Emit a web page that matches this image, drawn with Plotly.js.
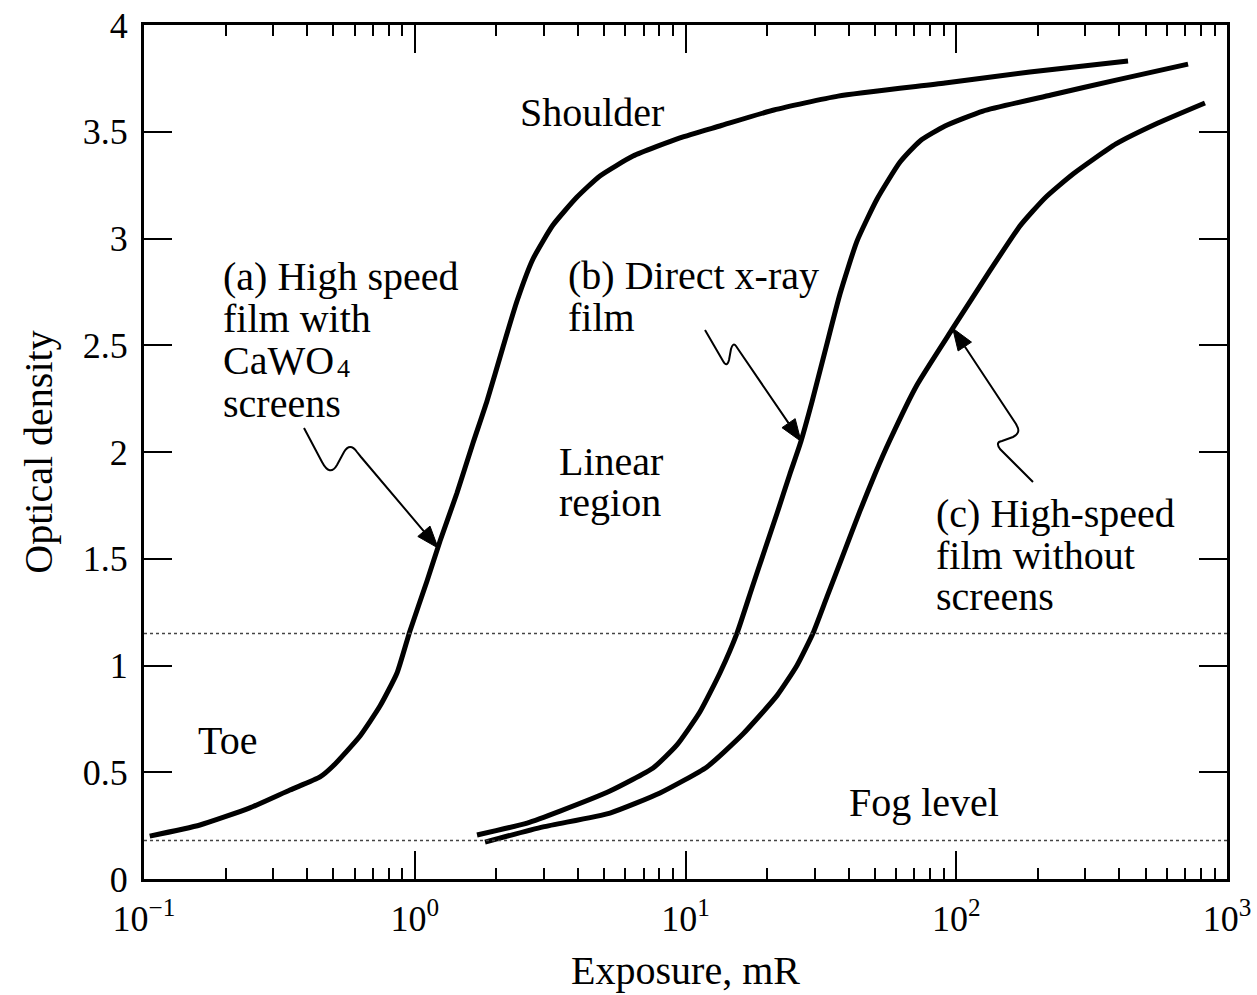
<!DOCTYPE html>
<html>
<head>
<meta charset="utf-8">
<script src="https://cdn.plot.ly/plotly-3.0.1.min.js"></script>
<style>
  html, body { margin: 0; padding: 0; background: #fff; }
  #chart { width: 1257px; height: 995px; }
</style>
</head>
<body>
<div id="chart"></div>
<script>
// Characteristic (H&D) curves: optical density vs. exposure (mR)

// (a) High speed film with CaWO4 screens
const exposureA = [0.105, 0.161, 0.246, 0.346, 0.447, 0.499, 0.628, 0.744, 0.860, 0.960, 1.110, 1.240, 1.432, 1.641, 1.849, 2.118, 2.386, 2.733, 3.24, 3.975, 4.83, 6.40, 9.54, 13.4, 21.2, 36.6, 90.9, 187, 431];
const densityA  = [0.201, 0.253, 0.333, 0.417, 0.478, 0.529, 0.670, 0.810, 0.965, 1.162, 1.396, 1.583, 1.808, 2.042, 2.239, 2.492, 2.707, 2.904, 3.063, 3.194, 3.293, 3.386, 3.471, 3.527, 3.602, 3.667, 3.728, 3.780, 3.831];

// (b) Direct x-ray film
const exposureB = [1.698, 2.60, 3.44, 5.26, 7.59, 9.30, 11.3, 13.4, 15.5, 17.6, 19.67, 21.8, 24.3, 26.5, 29.3, 32.7, 37.2, 43.0, 51.0, 62.0, 73.5, 90.9, 125.6, 224, 389, 718];
const densityB  = [0.206, 0.262, 0.318, 0.412, 0.520, 0.628, 0.782, 0.965, 1.152, 1.363, 1.546, 1.714, 1.897, 2.037, 2.234, 2.468, 2.740, 2.988, 3.185, 3.358, 3.457, 3.527, 3.597, 3.672, 3.742, 3.817];

// (c) High-speed film without screens
const exposureC = [1.818, 2.98, 5.26, 8.05, 12.0, 16.3, 21.8, 25.8, 29.6, 33.3, 38.2, 44.1, 50.1, 56.9, 71.6, 97.3, 133, 172, 212.7, 270, 389, 556, 829];
const densityC  = [0.173, 0.244, 0.309, 0.403, 0.525, 0.679, 0.860, 1.000, 1.152, 1.321, 1.518, 1.724, 1.897, 2.056, 2.314, 2.581, 2.848, 3.059, 3.190, 3.302, 3.443, 3.541, 3.635];

// Reference levels
const fogLevel = 0.18;
const toeLevel = 1.15;

// Points on each curve that the leader arrows point at [exposure, density]
const pointerA = [1.22, 1.55];
const pointerB = [26.7, 2.05];
const pointerC = [97, 2.58];

// Axis ticks
const xTickVals = [0.1, 1, 10, 100, 1000];
const xTickText = ['10<sup>\u22121</sup>', '10<sup>0</sup>', '10<sup>1</sup>', '10<sup>2</sup>', '10<sup>3</sup>'];
const xMinorVals = [];
[0.1, 1, 10, 100].forEach(d => { for (let k = 2; k <= 9; k++) xMinorVals.push(d * k); });
const yTickVals = [0, 0.5, 1, 1.5, 2, 2.5, 3, 3.5, 4];
const yTickText = ['0', '0.5', '1', '1.5', '2', '2.5', '3', '3.5', '4'];

const FONT = 'Liberation Serif, Times New Roman, serif';
const TICK_FS = 36;
const TEXT_FS = 40;
const SUB_FS = 26;

// plot frame in pixels
const L = 144, R = 1227, T = 25, B = 879;
const W = 1257, H = 995;
const XMIN = -1, XMAX = 3, YMIN = 0, YMAX = 4;
const px = X => (X - L) / (R - L);
const py = Y => (B - Y) / (B - T);
const dataToPix = (xv, yv) => [
  L + (Math.log10(xv) - XMIN) / (XMAX - XMIN) * (R - L),
  B - (yv - YMIN) / (YMAX - YMIN) * (B - T)
];

function curve(x, y) {
  return {
    x: x, y: y, type: 'scatter', mode: 'lines',
    line: { color: '#000', width: 5, shape: 'spline', smoothing: 0.5 },
    hoverinfo: 'skip', showlegend: false
  };
}

const traces = [
  curve(exposureA, densityA),
  curve(exposureB, densityB),
  curve(exposureC, densityC)
];

// build a paper-referenced path from pixel points
function pathFrom(cmds) {
  return cmds.map(c => {
    if (typeof c === 'string') return c;
    return px(c[0]).toFixed(5) + ',' + py(c[1]).toFixed(5);
  }).join(' ');
}

// wavy leader line ending in a straight segment with a filled arrowhead
function leader(squiggle, tail, pointer) {
  const tip = dataToPix(pointer[0], pointer[1]);
  const dx = tip[0] - tail[0], dy = tip[1] - tail[1];
  const len = Math.hypot(dx, dy);
  const ux = dx / len, uy = dy / len;
  const headLen = 22, headHalf = 8;
  const base = [tip[0] - ux * headLen, tip[1] - uy * headLen];
  const p1 = [base[0] - uy * headHalf, base[1] + ux * headHalf];
  const p2 = [base[0] + uy * headHalf, base[1] - ux * headHalf];
  return [
    { type: 'path', xref: 'paper', yref: 'paper',
      path: pathFrom(squiggle.concat(['L', tail, 'L', base])),
      line: { color: '#000', width: 2 } },
    { type: 'path', xref: 'paper', yref: 'paper',
      path: pathFrom(['M', tip, 'L', p1, 'L', p2, 'Z']),
      fillcolor: '#000', line: { color: '#000', width: 1 } }
  ];
}

const shapes = [
  { type: 'line', xref: 'paper', yref: 'y', x0: 0, x1: 1, y0: fogLevel, y1: fogLevel,
    line: { color: '#444', width: 1.6, dash: 'dot' } },
  { type: 'line', xref: 'paper', yref: 'y', x0: 0, x1: 1, y0: toeLevel, y1: toeLevel,
    line: { color: '#444', width: 1.6, dash: 'dot' } }
].concat(
  leader(['M', [304, 428], 'L', [322, 462], 'Q', [330, 477], [337, 465], 'L', [344, 452], 'Q', [350, 442], [357, 452]], [361, 457], pointerA),
  leader(['M', [705, 330], 'L', [723, 361], 'Q', [727, 368], [729, 360], 'L', [731, 349], 'Q', [733, 342], [736, 346]], [738, 349], pointerB),
  leader(['M', [1033, 482], 'L', [1000, 449], 'Q', [995, 442], [1002, 441], 'L', [1013, 437], 'Q', [1021, 433], [1017, 426]], [1016, 424], pointerC)
);

// one text line per annotation
function label(X, Y, text, size) {
  return { xref: 'paper', yref: 'paper', x: px(X), y: py(Y), text: text,
    showarrow: false, xanchor: 'left', yanchor: 'middle',
    font: { family: FONT, size: size || TEXT_FS, color: '#000' } };
}

const annotations = [
  label(518, 112, 'Shoulder'),
  label(221, 276, '(a) High speed'),
  label(221, 318, 'film with'),
  label(221, 360, 'CaWO'),
  label(335, 368, '4', SUB_FS),
  label(221, 403, 'screens'),
  label(566, 275, '(b) Direct x-ray'),
  label(566, 317, 'film'),
  label(557, 461, 'Linear'),
  label(557, 503, 'region'),
  label(934, 513, '(c) High-speed'),
  label(934, 555, 'film without'),
  label(934, 596, 'screens'),
  label(196, 740, 'Toe'),
  label(847, 802, 'Fog level')
];

const layout = {
  width: W, height: H,
  margin: { l: L, r: W - R, t: T, b: H - B, pad: 0 },
  paper_bgcolor: '#fff', plot_bgcolor: '#fff',
  font: { family: FONT, size: TICK_FS, color: '#000' },
  showlegend: false,
  xaxis: {
    type: 'log', range: [XMIN, XMAX], autorange: false,
    tickmode: 'array', tickvals: xTickVals, ticktext: xTickText,
    ticks: 'inside', ticklen: 28, tickwidth: 2, tickcolor: '#000',
    minor: { tickmode: 'array', tickvals: xMinorVals, ticks: 'inside', ticklen: 11, tickwidth: 2, tickcolor: '#000', showgrid: false },
    showline: true, linewidth: 3, linecolor: '#000', mirror: 'ticks',
    showgrid: false, zeroline: false,
    tickfont: { family: FONT, size: TICK_FS, color: '#000' },
    ticklabelstandoff: 6,
    title: { text: 'Exposure, mR', font: { family: FONT, size: TEXT_FS, color: '#000' }, standoff: 18 }
  },
  yaxis: {
    range: [YMIN, YMAX], autorange: false,
    tickmode: 'array', tickvals: yTickVals, ticktext: yTickText,
    ticks: 'inside', ticklen: 28, tickwidth: 2, tickcolor: '#000',
    showline: true, linewidth: 3, linecolor: '#000', mirror: 'ticks',
    showgrid: false, zeroline: false,
    tickfont: { family: FONT, size: TICK_FS, color: '#000' },
    ticklabelstandoff: 6,
    title: { text: 'Optical density', font: { family: FONT, size: TEXT_FS, color: '#000' }, standoff: 18 }
  },
  shapes: shapes,
  annotations: annotations
};

Plotly.newPlot('chart', traces, layout, { staticPlot: true, displayModeBar: false });
</script>
</body>
</html>
